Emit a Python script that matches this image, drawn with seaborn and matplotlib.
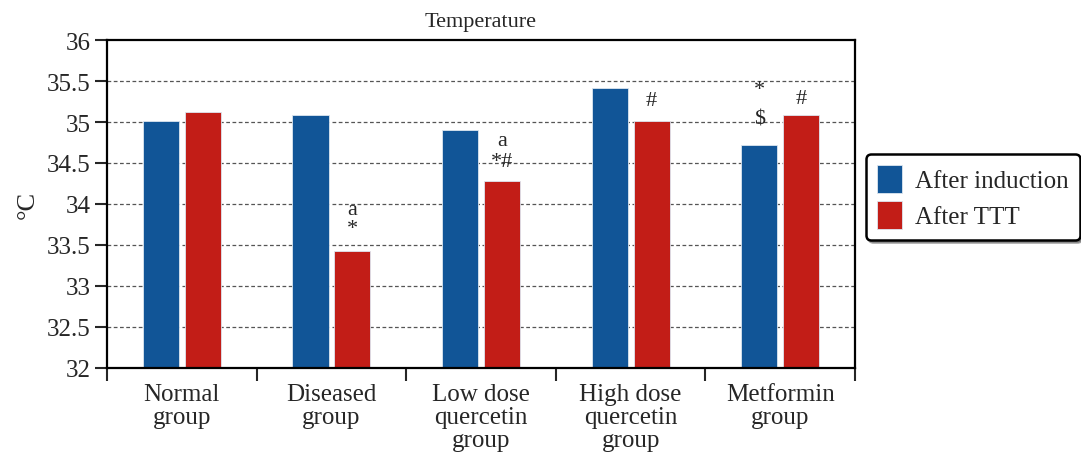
import pandas as pd
import matplotlib.pyplot as plt
import seaborn as sns

# Data
groups = ['Normal\ngroup', 'Diseased\ngroup', 'Low dose\nquercetin\ngroup',
          'High dose\nquercetin\ngroup', 'Metformin\ngroup']
after_induction = [35.01, 35.09, 34.90, 35.41, 34.72]
after_ttt = [35.12, 33.43, 34.28, 35.01, 35.09]
series = ['After induction', 'After TTT']
colors = ['#115597', '#c21d17']

# significance marks: (group index, series index, text, offset in points above bar)
marks_group = [1, 1, 2, 2, 3, 4, 4, 4]
marks_series = [1, 1, 1, 1, 1, 0, 0, 1]
marks_text = ['*', 'a', '*#', 'a', '#', '$', '*', '#']
marks_offset = [9, 23, 7, 22, 8, 12, 33, 5]

sns.set_style('white')
plt.rcParams['font.family'] = ['Liberation Serif', 'DejaVu Serif']

df = pd.DataFrame({
    'Group': groups * 2,
    'Series': [series[0]] * len(groups) + [series[1]] * len(groups),
    'Value': after_induction + after_ttt,
})

fig = plt.figure(figsize=(10.81, 4.56), dpi=100)
ax = fig.add_axes([0.099, 0.191, 0.692, 0.719])

sns.barplot(data=df, x='Group', y='Value', hue='Series', hue_order=series,
            palette=colors, saturation=1, width=0.56, gap=0.14,
            edgecolor='#dde6f0', linewidth=0.6, ax=ax)

ax.set_ylim(32, 36)
ax.set_xlim(-0.5, len(groups) - 0.5)
ax.set_yticks([32, 32.5, 33, 33.5, 34, 34.5, 35, 35.5, 36])
ax.set_yticklabels(['32', '32.5', '33', '33.5', '34', '34.5', '35', '35.5', '36'])
ax.set_xticks([i - 0.5 for i in range(len(groups) + 1)], minor=True)
ax.tick_params(axis='x', which='major', length=0, pad=11, labelsize=18)
ax.tick_params(axis='x', which='minor', length=9, width=1.5, direction='out', bottom=True)
ax.tick_params(axis='y', length=9, width=1.5, direction='out', left=True, labelsize=18, pad=3)
plt.setp(ax.get_xticklabels(), linespacing=1.04)

for y in [32.5, 33, 33.5, 34, 34.5, 35, 35.5]:
    ax.axhline(y, color='#555555', linestyle=(0, (3, 2)), linewidth=0.9, zorder=0)

for s in ax.spines.values():
    s.set_linewidth(1.6)
    s.set_color('black')

ax.set_xlabel('')
ax.set_ylabel('°C', fontsize=19, labelpad=6)
ax.set_title('Temperature', fontsize=16, pad=10)

# significance annotations
vals = [after_induction, after_ttt]
for g, s, t, off in zip(marks_group, marks_series, marks_text, marks_offset):
    x = g + (-0.14 if s == 0 else 0.14)
    ax.annotate(t, (x, vals[s][g]), xytext=(0, off), textcoords='offset points',
                ha='center', va='bottom', fontsize=16)

handles, labels = ax.get_legend_handles_labels()
ax.legend_.remove()
leg = fig.legend(handles, labels, loc='upper left', bbox_to_anchor=(0.801, 0.66),
                 fontsize=18, frameon=True, fancybox=True, shadow=True,
                 handlelength=1.0, handleheight=1.3, handletextpad=0.5,
                 borderpad=0.45, labelspacing=0.35, borderaxespad=0)
leg.get_frame().set_edgecolor('black')
leg.get_frame().set_linewidth(1.8)
leg.get_frame().set_alpha(1)

fig.savefig('out.png', dpi=100)
